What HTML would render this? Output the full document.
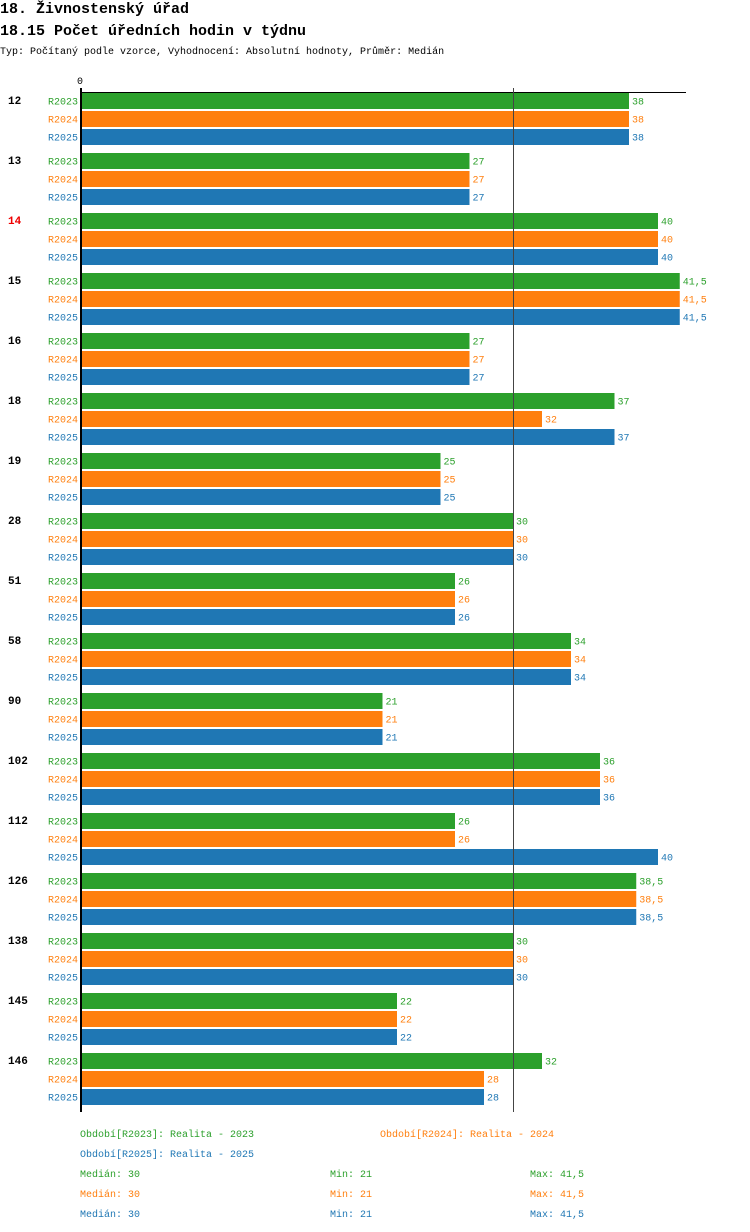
<!DOCTYPE html>
<html><head><meta charset="utf-8"><style>
body{margin:0;background:#fff;width:750px;height:1232px;overflow:hidden;font-family:"Liberation Mono",monospace}
svg{display:block}
</style></head><body>
<svg id="c" width="750" height="1232" xmlns="http://www.w3.org/2000/svg" font-family="Liberation Mono, monospace">
<text x="0" y="13" font-size="15" font-weight="bold">18. Živnostenský úřad</text>
<text x="0" y="35" font-size="15" font-weight="bold">18.15 Počet úředních hodin v týdnu</text>
<text x="0" y="54" font-size="10">Typ: Počítaný podle vzorce, Vyhodnocení: Absolutní hodnoty, Průměr: Medián</text>
<text x="77" y="84" font-size="10">0</text>
<g id="bars"></g>
<line x1="80" y1="92.5" x2="686" y2="92.5" stroke="#000" stroke-width="1"/>
<line x1="81" y1="88" x2="81" y2="1112" stroke="#000" stroke-width="2"/>
<line id="med" y1="88" y2="1112" stroke="#444" stroke-width="1"/>
<g font-size="10">
<text x="80" y="1137" fill="#2ca02c">Období[R2023]: Realita - 2023</text>
<text x="380" y="1137" fill="#ff7f0e">Období[R2024]: Realita - 2024</text>
<text x="80" y="1157" fill="#1f77b4">Období[R2025]: Realita - 2025</text>
<text x="80" y="1177" fill="#2ca02c">Medián: 30</text>
<text x="330" y="1177" fill="#2ca02c">Min: 21</text>
<text x="530" y="1177" fill="#2ca02c">Max: 41,5</text>
<text x="80" y="1197" fill="#ff7f0e">Medián: 30</text>
<text x="330" y="1197" fill="#ff7f0e">Min: 21</text>
<text x="530" y="1197" fill="#ff7f0e">Max: 41,5</text>
<text x="80" y="1217" fill="#1f77b4">Medián: 30</text>
<text x="330" y="1217" fill="#1f77b4">Min: 21</text>
<text x="530" y="1217" fill="#1f77b4">Max: 41,5</text>
</g>
</svg>
<script>
const categories=["12","13","14","15","16","18","19","28","51","58","90","102","112","126","138","145","146"];
const r2023=[38,27,40,41.5,27,37,25,30,26,34,21,36,26,38.5,30,22,32];
const r2024=[38,27,40,41.5,27,32,25,30,26,34,21,36,26,38.5,30,22,28];
const r2025=[38,27,40,41.5,27,37,25,30,26,34,21,36,40,38.5,30,22,28];
const seriesNames=["R2023","R2024","R2025"];
const median=30;
const highlighted=["14"];
const colors=["#2ca02c","#ff7f0e","#1f77b4"];
const NS="http://www.w3.org/2000/svg";
const x=v=>78+v*14.5;
const gy=i=>93+i*60;
const g=document.getElementById('bars');
const med=document.getElementById('med');
med.setAttribute('x1',x(median)+0.5);med.setAttribute('x2',x(median)+0.5);
function mk(t,a){const e=document.createElementNS(NS,t);for(const k in a)e.setAttribute(k,a[k]);g.appendChild(e);return e;}
const series=[r2023,r2024,r2025];
categories.forEach((c,i)=>{
  const lab=mk('text',{x:8,y:gy(i)+11,'font-size':11,'font-weight':'bold',fill:highlighted.includes(c)?'#e00':'#000'});
  lab.textContent=c;
  
  
  series.forEach((s,j)=>{
    const y=gy(i)+j*18;
    const r=mk('rect',{x:82,y:y,width:x(s[i])-82,height:16,fill:colors[j]});
    
    
    const sl=mk('text',{x:78,y:y+11.5,'font-size':10,fill:colors[j],'text-anchor':'end'});
    sl.textContent=seriesNames[j];
    
    
    const vl=mk('text',{x:x(s[i])+3,y:y+11.5,'font-size':10,fill:colors[j]});
    vl.textContent=String(s[i]).replace('.',',');
    
    
  });
});
</script>
</body></html>
